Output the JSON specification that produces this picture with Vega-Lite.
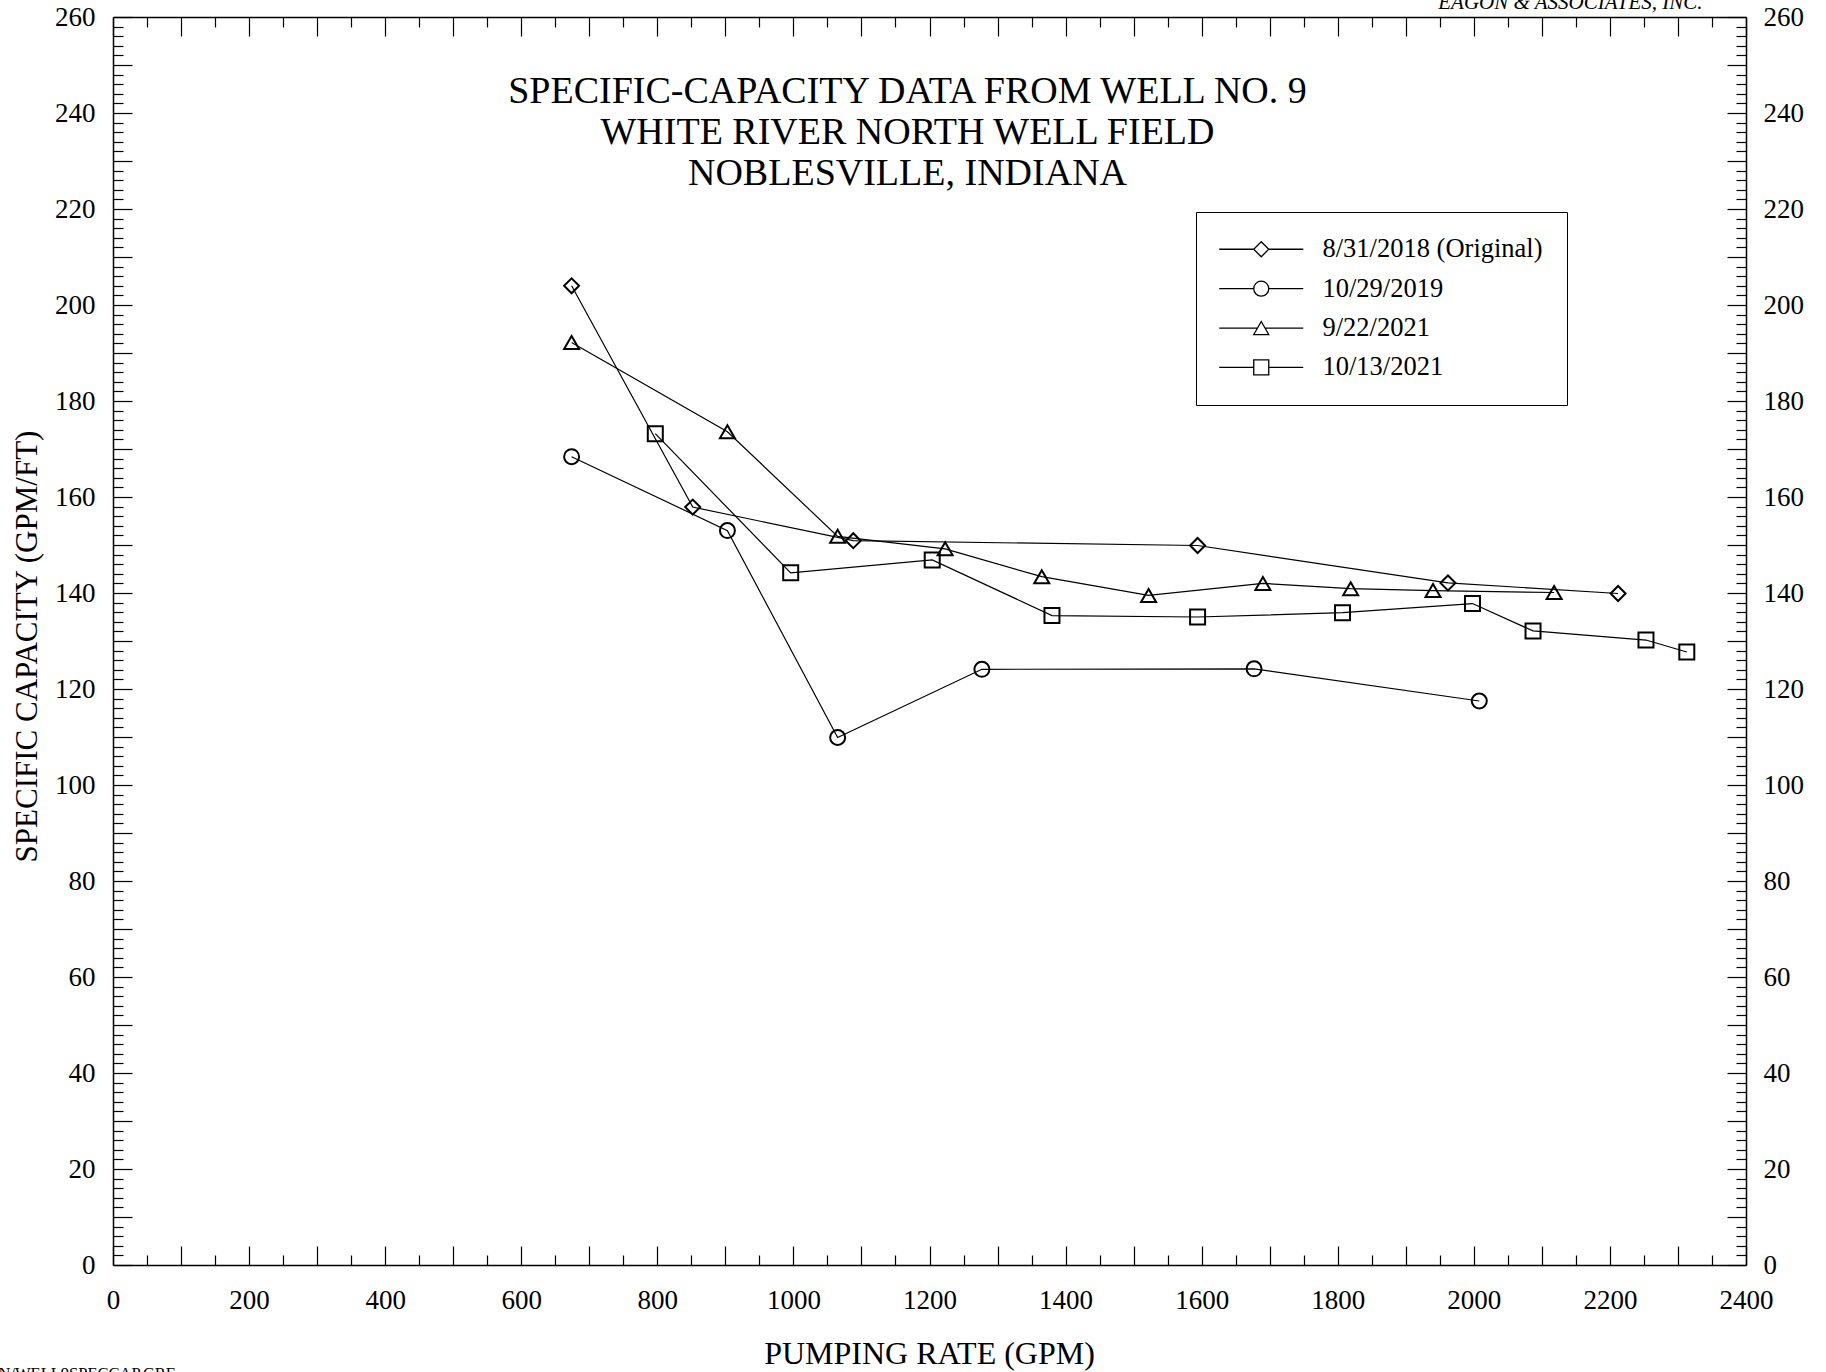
{
  "$schema": "https://vega.github.io/schema/vega-lite/v6.json",
  "width": 1633,
  "height": 1248,
  "autosize": "none",
  "padding": {"left": 113, "top": 17, "right": 80, "bottom": 107},
  "background": "white",
  "config": {
    "view": {"stroke": null},
    "font": "Liberation Serif",
    "axis": {
      "labelFont": "Liberation Serif",
      "labelFontSize": 27,
      "labelColor": "black",
      "titleFont": "Liberation Serif",
      "titleColor": "black",
      "titleFontWeight": "normal",
      "domainColor": "black",
      "domainWidth": 1.5,
      "tickColor": "black",
      "tickWidth": 1.2,
      "grid": false,
      "labelFlush": false,
      "labelOverlap": false
    }
  },
  "title": {
    "text": ["SPECIFIC-CAPACITY DATA FROM WELL NO. 9", "WHITE RIVER NORTH WELL FIELD", "NOBLESVILLE, INDIANA"],
    "font": "Liberation Serif",
    "fontSize": 38,
    "fontWeight": "normal",
    "color": "black",
    "anchor": "middle",
    "lineHeight": 41,
    "baseline": "top",
    "dx": -22,
    "dy": 206
  },
  "data": {
    "values": [
      {"series": "8/31/2018 (Original)", "rate": 674, "cap": 204.0},
      {"series": "8/31/2018 (Original)", "rate": 852, "cap": 157.9},
      {"series": "8/31/2018 (Original)", "rate": 1088, "cap": 150.9},
      {"series": "8/31/2018 (Original)", "rate": 1594, "cap": 149.9},
      {"series": "8/31/2018 (Original)", "rate": 1962, "cap": 142.1},
      {"series": "8/31/2018 (Original)", "rate": 2212, "cap": 139.9},
      {"series": "10/29/2019", "rate": 674, "cap": 168.4},
      {"series": "10/29/2019", "rate": 903, "cap": 153.0},
      {"series": "10/29/2019", "rate": 1065, "cap": 109.9},
      {"series": "10/29/2019", "rate": 1277, "cap": 124.1},
      {"series": "10/29/2019", "rate": 1677, "cap": 124.2},
      {"series": "10/29/2019", "rate": 2008, "cap": 117.5},
      {"series": "9/22/2021", "rate": 674, "cap": 192.2},
      {"series": "9/22/2021", "rate": 903, "cap": 173.6},
      {"series": "9/22/2021", "rate": 1065, "cap": 151.8},
      {"series": "9/22/2021", "rate": 1223, "cap": 149.2},
      {"series": "9/22/2021", "rate": 1365, "cap": 143.4},
      {"series": "9/22/2021", "rate": 1522, "cap": 139.5},
      {"series": "9/22/2021", "rate": 1690, "cap": 142.0},
      {"series": "9/22/2021", "rate": 1819, "cap": 140.9},
      {"series": "9/22/2021", "rate": 1940, "cap": 140.5},
      {"series": "9/22/2021", "rate": 2118, "cap": 140.1},
      {"series": "10/13/2021", "rate": 797, "cap": 173.2},
      {"series": "10/13/2021", "rate": 996, "cap": 144.2},
      {"series": "10/13/2021", "rate": 1204, "cap": 146.9},
      {"series": "10/13/2021", "rate": 1380, "cap": 135.3},
      {"series": "10/13/2021", "rate": 1594, "cap": 135.0},
      {"series": "10/13/2021", "rate": 1807, "cap": 135.9},
      {"series": "10/13/2021", "rate": 1998, "cap": 137.8},
      {"series": "10/13/2021", "rate": 2087, "cap": 132.1},
      {"series": "10/13/2021", "rate": 2253, "cap": 130.2},
      {"series": "10/13/2021", "rate": 2313, "cap": 127.7}
    ]
  },
  "layer": [
    {
      "mark": {"type": "line", "color": "black", "strokeWidth": 1.2},
      "encoding": {
        "x": {
          "field": "rate", "type": "quantitative",
          "scale": {"domain": [0, 2400], "nice": false, "zero": false},
          "axis": {
            "orient": "bottom",
            "values": [0,100,200,300,400,500,600,700,800,900,1000,1100,1200,1300,1400,1500,1600,1700,1800,1900,2000,2100,2200,2300,2400],
            "tickSize": -19,
            "labelPadding": 41,
            "labelExpr": "datum.value % 200 == 0 ? datum.label : ''",
            "format": "d",
            "title": "PUMPING RATE (GPM)",
            "titleFontSize": 32,
            "titleX": 816,
            "titleY": 98,
            "titleAlign": "center",
            "titleBaseline": "alphabetic"
          }
        },
        "y": {
          "field": "cap", "type": "quantitative",
          "scale": {"domain": [0, 260], "nice": false, "zero": false},
          "axis": {
            "orient": "left",
            "values": [0,10,20,30,40,50,60,70,80,90,100,110,120,130,140,150,160,170,180,190,200,210,220,230,240,250,260],
            "tickSize": -19,
            "labelPadding": 37,
            "labelExpr": "datum.value % 20 == 0 ? datum.label : ''",
            "format": "d",
            "title": "SPECIFIC CAPACITY (GPM/FT)",
            "titleFontSize": 31,
            "titleAngle": -90,
            "titleX": -86,
            "titleY": 629,
            "titleAlign": "center",
            "titleBaseline": "middle"
          }
        },
        "detail": {"field": "series"},
        "order": {"field": "rate", "type": "quantitative"}
      }
    },
    {
      "mark": {"type": "point", "filled": false, "color": "black", "strokeWidth": 2, "size": 225, "opacity": 1},
      "encoding": {
        "x": {
          "field": "rate", "type": "quantitative",
          "scale": {"domain": [0, 2400], "nice": false, "zero": false},
          "axis": {
            "orient": "bottom",
            "values": [50,150,250,350,450,550,650,750,850,950,1050,1150,1250,1350,1450,1550,1650,1750,1850,1950,2050,2150,2250,2350],
            "tickSize": -10,
            "labels": false,
            "domain": false,
            "title": "N/WELL9SPECCAP.GRF",
            "titleFontSize": 16.5,
            "titleX": -115,
            "titleY": 113,
            "titleAlign": "left",
            "titleBaseline": "alphabetic"
          }
        },
        "y": {
          "field": "cap", "type": "quantitative",
          "scale": {"domain": [0, 260], "nice": false, "zero": false},
          "axis": {
            "orient": "left",
            "values": [2,4,6,8,12,14,16,18,22,24,26,28,32,34,36,38,42,44,46,48,52,54,56,58,62,64,66,68,72,74,76,78,82,84,86,88,92,94,96,98,102,104,106,108,112,114,116,118,122,124,126,128,132,134,136,138,142,144,146,148,152,154,156,158,162,164,166,168,172,174,176,178,182,184,186,188,192,194,196,198,202,204,206,208,212,214,216,218,222,224,226,228,232,234,236,238,242,244,246,248,252,254,256,258],
            "tickSize": -10,
            "labels": false,
            "domain": false,
            "title": null
          }
        },
        "shape": {
          "field": "series", "type": "nominal",
          "scale": {"domain": ["8/31/2018 (Original)", "10/29/2019", "9/22/2021", "10/13/2021"], "range": ["diamond", "circle", "triangle-up", "square"]},
          "legend": null
        }
      }
    },
    {
      "transform": [{"filter": "false"}],
      "mark": {"type": "point", "filled": false, "color": "black", "strokeWidth": 1.5},
      "encoding": {
        "x": {
          "field": "rate", "type": "quantitative",
          "scale": {"domain": [0, 2400], "nice": false, "zero": false},
          "axis": {
            "orient": "top",
            "values": [0,100,200,300,400,500,600,700,800,900,1000,1100,1200,1300,1400,1500,1600,1700,1800,1900,2000,2100,2200,2300,2400],
            "tickSize": -19,
            "labels": false,
            "title": "EAGON & ASSOCIATES, INC.",
            "titleFontSize": 21,
            "titleFontStyle": "italic",
            "titleX": 1589,
            "titleY": -9,
            "titleAlign": "right",
            "titleBaseline": "alphabetic"
          }
        },
        "y": {
          "field": "cap", "type": "quantitative",
          "scale": {"domain": [0, 260], "nice": false, "zero": false},
          "axis": {
            "orient": "right",
            "values": [0,10,20,30,40,50,60,70,80,90,100,110,120,130,140,150,160,170,180,190,200,210,220,230,240,250,260],
            "tickSize": -19,
            "labelPadding": 36,
            "labelExpr": "datum.value % 20 == 0 ? datum.label : ''",
            "format": "d",
            "title": null
          }
        },
        "shape": {
          "field": "series", "type": "nominal",
          "scale": {
            "domain": ["8/31/2018 (Original)", "10/29/2019", "9/22/2021", "10/13/2021"],
            "range": [
              "M-4.2,0H-0.75M0.75,0H4.2M-0.75,0L0,-0.75L0.75,0L0,0.75Z",
              "M-4.2,0H-0.75M0.75,0H4.2M0.75,0A0.75,0.75,0,1,1,-0.75,0A0.75,0.75,0,1,1,0.75,0Z",
              "M-4.2,0H-0.4M0.4,0H4.2M0,-0.65L0.75,0.65L-0.75,0.65Z",
              "M-4.2,0H-0.75M0.75,0H4.2M-0.75,-0.75H0.75V0.75H-0.75Z"
            ]
          },
          "legend": {
            "orient": "none",
            "legendX": 1083,
            "legendY": 195,
            "title": null,
            "padding": 24,
            "strokeColor": "black",
            "fillColor": "white",
            "symbolSize": 400,
            "symbolStrokeColor": "black",
            "symbolStrokeWidth": 1.3,
            "symbolFillColor": "transparent",
            "symbolOpacity": 1,
            "symbolOffset": 28,
            "labelOffset": 48,
            "labelFont": "Liberation Serif",
            "labelFontSize": 26.5,
            "labelColor": "black",
            "labelLimit": 400,
            "rowPadding": 12.4
          }
        }
      }
    },
    {
      "transform": [{"filter": "false"}],
      "mark": {"type": "point"},
      "encoding": {
        "x": {
          "field": "rate", "type": "quantitative",
          "scale": {"domain": [0, 2400], "nice": false, "zero": false},
          "axis": {
            "orient": "top",
            "values": [50,150,250,350,450,550,650,750,850,950,1050,1150,1250,1350,1450,1550,1650,1750,1850,1950,2050,2150,2250,2350],
            "tickSize": -10,
            "labels": false,
            "domain": false,
            "title": null
          }
        },
        "y": {
          "field": "cap", "type": "quantitative",
          "scale": {"domain": [0, 260], "nice": false, "zero": false},
          "axis": {
            "orient": "right",
            "values": [2,4,6,8,12,14,16,18,22,24,26,28,32,34,36,38,42,44,46,48,52,54,56,58,62,64,66,68,72,74,76,78,82,84,86,88,92,94,96,98,102,104,106,108,112,114,116,118,122,124,126,128,132,134,136,138,142,144,146,148,152,154,156,158,162,164,166,168,172,174,176,178,182,184,186,188,192,194,196,198,202,204,206,208,212,214,216,218,222,224,226,228,232,234,236,238,242,244,246,248,252,254,256,258],
            "tickSize": -10,
            "labels": false,
            "domain": false,
            "title": null
          }
        }
      }
    }
  ],
  "resolve": {
    "axis": {"x": "independent", "y": "independent"},
    "scale": {"shape": "independent"}
  }
}
